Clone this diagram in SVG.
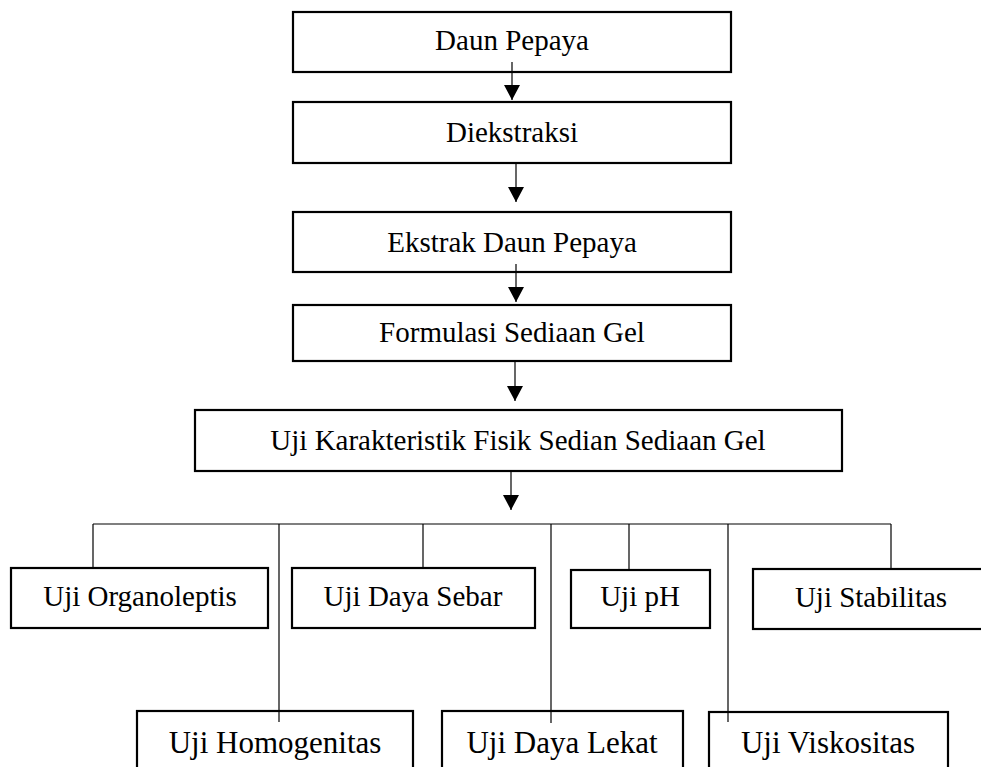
<svg xmlns="http://www.w3.org/2000/svg" width="981" height="767" viewBox="0 0 981 767">
<style>
.box{fill:#fff;stroke:#000;stroke-width:2.2}
.t{font-family:"Liberation Serif","Times New Roman",serif;font-size:29px;fill:#000;text-anchor:middle}
.tb{font-size:31px}
.c{stroke:#000;stroke-width:1.2;fill:none}
</style>
<defs>
<marker id="ah" viewBox="0 0 15 16" refX="15" refY="8" markerWidth="15" markerHeight="16" markerUnits="userSpaceOnUse" orient="auto">
<path d="M0,0 L15,8 L0,16 Z" fill="#000"/>
</marker>
</defs>
<rect width="981" height="767" fill="#fff"/>
<g id="n1"><rect class="box" x="293" y="12" width="438" height="60"/><text class="t" x="512" y="50">Daun Pepaya</text></g>
<g id="n2"><rect class="box" x="293" y="102" width="438" height="61"/><text class="t" x="512" y="142">Diekstraksi</text></g>
<g id="n3"><rect class="box" x="293" y="212" width="438" height="60"/><text class="t" x="512" y="252">Ekstrak Daun Pepaya</text></g>
<g id="n4"><rect class="box" x="293" y="305" width="438" height="56"/><text class="t" x="512" y="342">Formulasi Sediaan Gel</text></g>
<g id="n5"><rect class="box" x="195" y="410" width="647" height="61"/><text class="t" x="518" y="450">Uji Karakteristik Fisik Sedian Sediaan Gel</text></g>
<g id="n6"><rect class="box" x="11" y="568" width="257" height="60"/><text class="t" x="140" y="606">Uji Organoleptis</text></g>
<g id="n7"><rect class="box" x="292" y="568" width="243" height="60"/><text class="t" x="413" y="606">Uji Daya Sebar</text></g>
<g id="n8"><rect class="box" x="571" y="570" width="139" height="58"/><text class="t" x="640" y="606">Uji pH</text></g>
<g id="n9"><rect class="box" x="753" y="569" width="236" height="60"/><text class="t" x="871" y="607">Uji Stabilitas</text></g>
<g id="n10"><rect class="box" x="137" y="711" width="276" height="62"/><text class="t tb" x="275" y="753">Uji Homogenitas</text></g>
<g id="n11"><rect class="box" x="442" y="711" width="241" height="62"/><text class="t tb" x="562" y="753">Uji Daya Lekat</text></g>
<g id="n12"><rect class="box" x="709" y="712" width="239" height="62"/><text class="t tb" x="828" y="753">Uji Viskositas</text></g>
<g id="connectors">
<line class="c" x1="512" y1="62" x2="512" y2="100" marker-end="url(#ah)"/>
<line class="c" x1="516" y1="163" x2="516" y2="202" marker-end="url(#ah)"/>
<line class="c" x1="516" y1="264" x2="516" y2="302" marker-end="url(#ah)"/>
<line class="c" x1="515" y1="361" x2="515" y2="401" marker-end="url(#ah)"/>
<line class="c" x1="511" y1="471" x2="511" y2="510" marker-end="url(#ah)"/>
<line class="c" x1="93" y1="524" x2="891" y2="524"/>
<line class="c" x1="93" y1="524" x2="93" y2="568"/>
<line class="c" x1="279" y1="524" x2="279" y2="722"/>
<line class="c" x1="423" y1="524" x2="423" y2="568"/>
<line class="c" x1="551" y1="524" x2="551" y2="723"/>
<line class="c" x1="629" y1="524" x2="629" y2="570"/>
<line class="c" x1="728" y1="524" x2="728" y2="722"/>
<line class="c" x1="891" y1="524" x2="891" y2="569"/>
</g>
</svg>
